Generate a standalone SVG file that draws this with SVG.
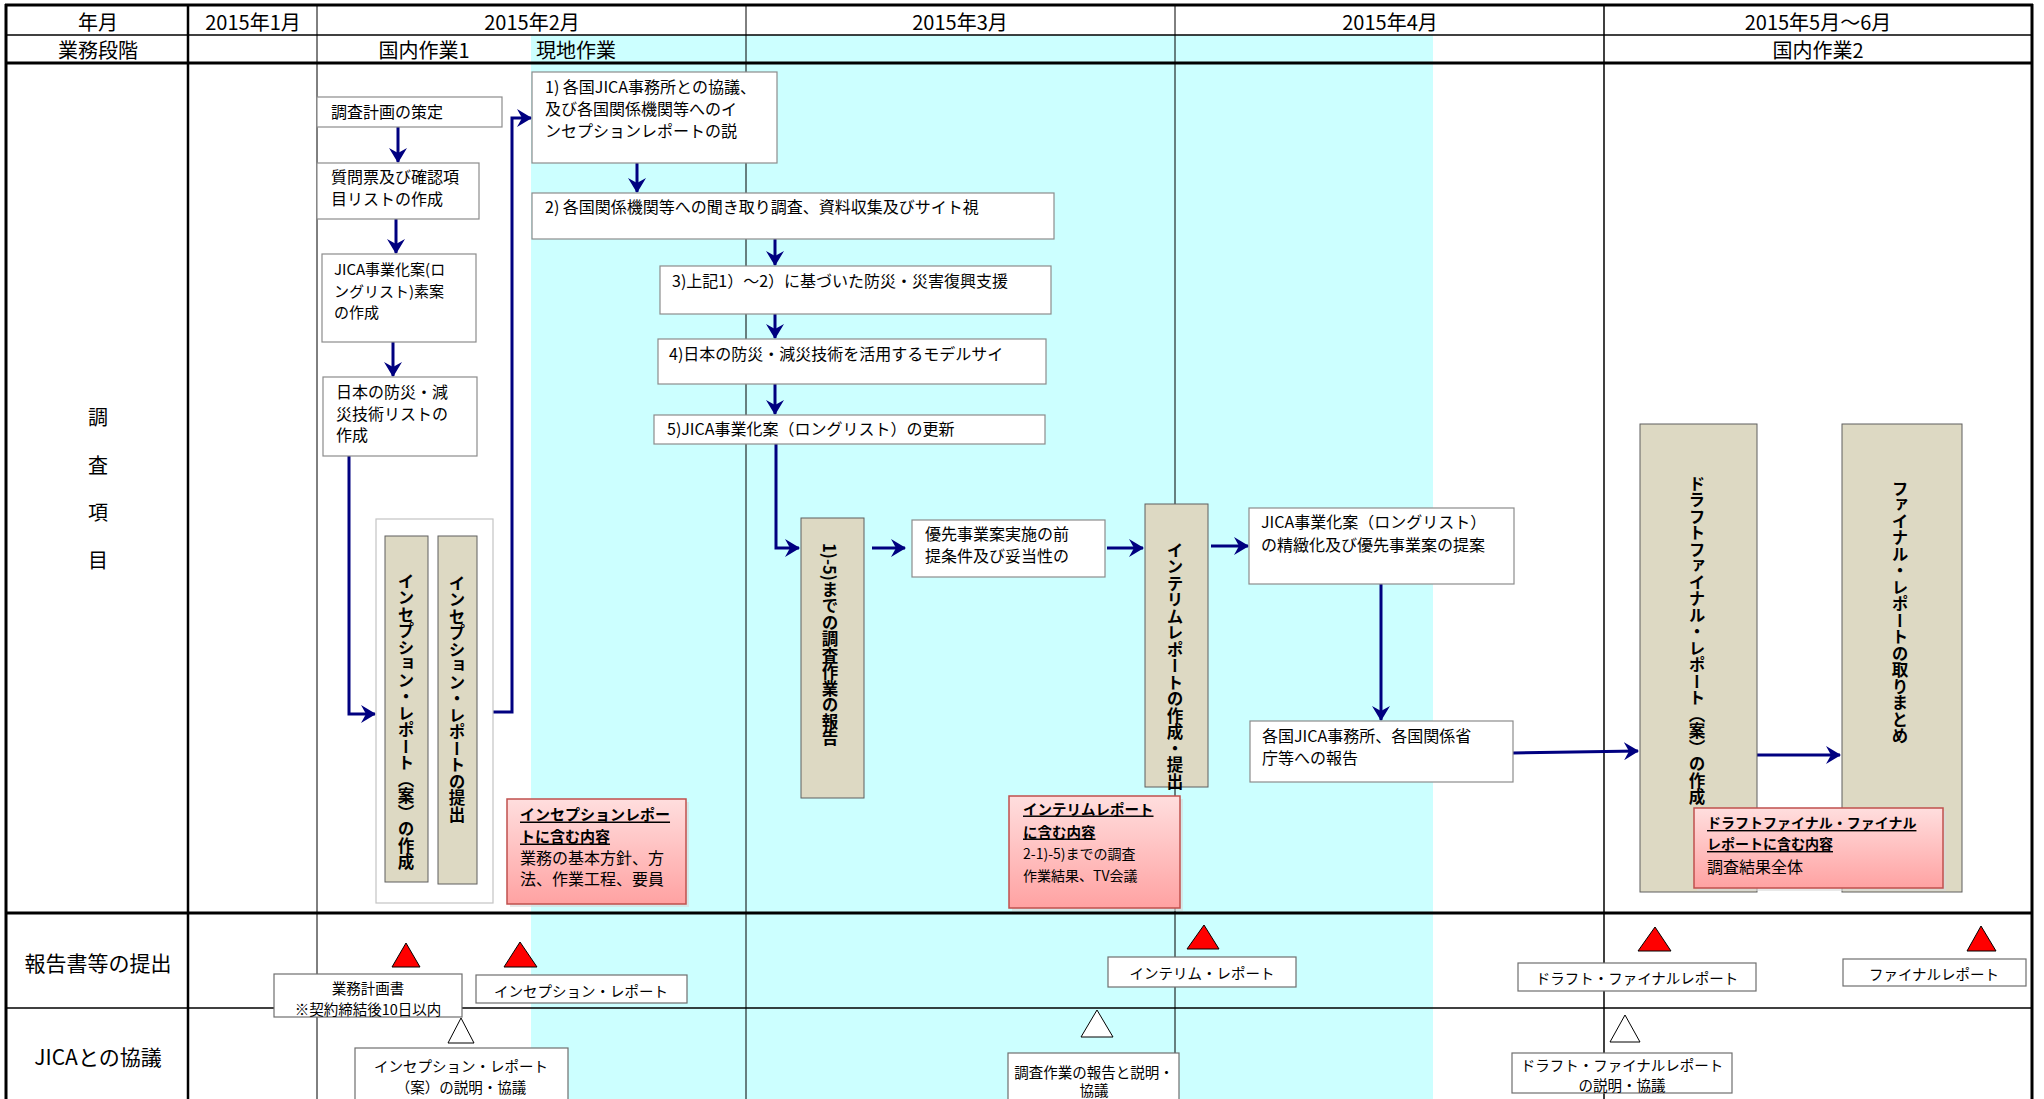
<svg xmlns="http://www.w3.org/2000/svg" width="2044" height="1099" viewBox="0 0 2044 1099">
<style>
text { font-family: "Noto Sans CJK JP", "Noto Sans", sans-serif; fill: #000; dominant-baseline: central; }
.hdr { font-size: 20px; text-anchor: middle; }
.lbl { font-size: 21px; text-anchor: middle; }
.box { fill: #fff; stroke: #8c8c8c; stroke-width: 1.2; }
.bbox { fill: #fff; stroke: #6f6f6f; stroke-width: 1.2; }
.t { font-size: 16px; }
.ts { font-size: 14.5px; text-anchor: middle; }
.bar { fill: #DDD9C3; stroke: #5f5f5f; stroke-width: 1; }
.vt { writing-mode: vertical-rl; font-weight: bold; font-size: 16.5px; }
.note { fill: url(#pink); stroke: #C0504D; stroke-width: 1.5; }
.nh { font-weight: bold; text-decoration: underline; }
.grid { stroke: #000; fill: none; }
.arr { stroke: #000080; stroke-width: 3; fill: none; marker-end: url(#ah); }
.red { fill: #FF0000; stroke: #000; stroke-width: 1; }
.wht { fill: #FFFFFF; stroke: #000; stroke-width: 1; }
</style>
<defs>
<marker id="ah" markerUnits="userSpaceOnUse" markerWidth="16" markerHeight="18" refX="14" refY="9" orient="auto">
<path d="M0,0 L15,9 L0,18 L5,9 z" fill="#000080"/>
</marker>
<linearGradient id="pink" x1="0" y1="0" x2="0" y2="1">
<stop offset="0" stop-color="#FFDEDE"/>
<stop offset="1" stop-color="#FFA2A2"/>
</linearGradient>
</defs>

<rect x="0" y="0" width="2044" height="1099" fill="#fff"/>
<rect x="531" y="35" width="902" height="1064" fill="#CCFFFF"/>

<g id="grid">
<line class="grid" x1="5" y1="5" x2="2033" y2="5" stroke-width="3"/>
<line class="grid" x1="5" y1="35" x2="2033" y2="35" stroke-width="1.5"/>
<line class="grid" x1="5" y1="63" x2="2033" y2="63" stroke-width="3"/>
<line class="grid" x1="5" y1="913" x2="2033" y2="913" stroke-width="3"/>
<line class="grid" x1="5" y1="1008" x2="2033" y2="1008" stroke-width="1.5"/>
<line class="grid" x1="6" y1="4" x2="6" y2="1099" stroke-width="3"/>
<line class="grid" x1="188" y1="4" x2="188" y2="1099" stroke-width="2.5"/>
<line class="grid" x1="317" y1="4" x2="317" y2="1099" stroke-width="1"/>
<line class="grid" x1="746" y1="4" x2="746" y2="1099" stroke-width="1"/>
<line class="grid" x1="1175" y1="4" x2="1175" y2="1099" stroke-width="1"/>
<line class="grid" x1="1604" y1="4" x2="1604" y2="1099" stroke-width="1.5"/>
<line class="grid" x1="2032" y1="4" x2="2032" y2="1099" stroke-width="3"/>
</g>

<g id="headers">
<text class="hdr" x="98" y="21">年月</text>
<text class="hdr" x="253" y="21">2015年1月</text>
<text class="hdr" x="532" y="21">2015年2月</text>
<text class="hdr" x="960" y="21">2015年3月</text>
<text class="hdr" x="1390" y="21">2015年4月</text>
<text class="hdr" x="1818" y="21">2015年5月～6月</text>
<text class="hdr" x="98" y="49">業務段階</text>
<text class="hdr" x="424" y="49">国内作業1</text>
<text class="hdr" x="536" y="49" style="text-anchor:start">現地作業</text>
<text class="hdr" x="1818" y="49">国内作業2</text>
<text class="hdr" x="98" y="416">調</text>
<text class="hdr" x="98" y="464">査</text>
<text class="hdr" x="98" y="511">項</text>
<text class="hdr" x="98" y="559">目</text>
<text class="lbl" x="98" y="962">報告書等の提出</text>
<text class="lbl" x="98" y="1056">JICAとの協議</text>
</g>

<g id="connectors">
<path class="arr" d="M398,127 V162"/>
<path class="arr" d="M396,219 V253"/>
<path class="arr" d="M393,342 V376"/>
<path class="arr" d="M349,456 V714 H375"/>
<path class="arr" d="M493,712 H512 V118 H531"/>
<path class="arr" d="M637,163 V192"/>
<path class="arr" d="M775,239 V265"/>
<path class="arr" d="M775,314 V338"/>
<path class="arr" d="M775,384 V414"/>
<path class="arr" d="M776,444 V548 H799"/>
<path class="arr" d="M872,548 H905"/>
<path class="arr" d="M1107,548 H1143"/>
<path class="arr" d="M1211,546 H1248"/>
<path class="arr" d="M1381,584 V720"/>
<path class="arr" d="M1513,753 L1638,751"/>
<path class="arr" d="M1757,755 H1840"/>
</g>

<g id="n-plan">
<rect class="box" x="317" y="97" width="185" height="30"/>
<text class="t" x="331" y="111">調査計画の策定</text>
</g>
<g id="n-question">
<rect class="box" x="317" y="163" width="162" height="56"/>
<text class="t" x="331" y="176">質問票及び確認項</text>
<text class="t" x="331" y="198">目リストの作成</text>
</g>
<g id="n-longlist-draft">
<rect class="box" x="322" y="254" width="154" height="88"/>
<text class="t" x="334" y="268" style="font-size:15px">JICA事業化案(ロ</text>
<text class="t" x="334" y="290" style="font-size:15px">ングリスト)素案</text>
<text class="t" x="334" y="311" style="font-size:15px">の作成</text>
</g>
<g id="n-techlist">
<rect class="box" x="323" y="377" width="154" height="79"/>
<text class="t" x="336" y="391">日本の防災・減</text>
<text class="t" x="336" y="413">災技術リストの</text>
<text class="t" x="336" y="434">作成</text>
</g>
<g id="n-inception">
<rect x="376" y="519" width="117" height="384" fill="#fff" stroke="#c4c4c4" stroke-width="1.2"/>
<rect class="bar" x="385" y="536" width="43" height="346"/>
<text class="vt" x="406" y="573">インセプション・レポート（案）の作成</text>
<rect class="bar" x="438" y="536" width="39" height="348"/>
<text class="vt" x="457" y="575">インセプション・レポートの提出</text>
</g>
<g id="n-inception-note">
<rect x="510" y="802" width="179" height="105" fill="#d9d9d9" opacity="0.6"/>
<rect class="note" x="507" y="799" width="179" height="105"/>
<text class="nh" x="520" y="813" style="font-size:15px">インセプションレポー</text>
<text class="nh" x="520" y="835" style="font-size:15px">トに含む内容</text>
<text x="520" y="857" style="font-size:16px">業務の基本方針、方</text>
<text x="520" y="878" style="font-size:16px">法、作業工程、要員</text>
</g>
<g id="n-step1">
<rect class="box" x="532" y="72" width="245" height="91"/>
<text class="t" x="545" y="86">1) 各国JICA事務所との協議、</text>
<text class="t" x="545" y="108">及び各国関係機関等へのイ</text>
<text class="t" x="545" y="130">ンセプションレポートの説</text>
</g>
<g id="n-step2">
<rect class="box" x="532" y="193" width="522" height="46"/>
<text class="t" x="545" y="206">2) 各国関係機関等への聞き取り調査、資料収集及びサイト視</text>
</g>
<g id="n-step3">
<rect class="box" x="660" y="266" width="391" height="48"/>
<text class="t" x="672" y="280">3)上記1）～2）に基づいた防災・災害復興支援</text>
</g>
<g id="n-step4">
<rect class="box" x="658" y="339" width="388" height="45"/>
<text class="t" x="669" y="353">4)日本の防災・減災技術を活用するモデルサイ</text>
</g>
<g id="n-step5">
<rect class="box" x="654" y="415" width="391" height="29"/>
<text class="t" x="667" y="428">5)JICA事業化案（ロングリスト）の更新</text>
</g>
<g id="n-report15">
<rect class="bar" x="801" y="518" width="63" height="280"/>
<text class="vt" x="830" y="543">1)-5)までの調査作業の報告</text>
</g>
<g id="n-priority">
<rect class="box" x="912" y="520" width="193" height="57"/>
<text class="t" x="925" y="533">優先事業案実施の前</text>
<text class="t" x="925" y="555">提条件及び妥当性の</text>
</g>
<g id="n-interim">
<rect class="bar" x="1145" y="504" width="63" height="283"/>
<text class="vt" x="1175" y="542">インテリムレポートの作成・提出</text>
</g>
<g id="n-interim-note">
<rect x="1012" y="799" width="171" height="112" fill="#d9d9d9" opacity="0.6"/>
<rect class="note" x="1009" y="796" width="171" height="112"/>
<text class="nh" x="1023" y="808" style="font-size:14.5px">インテリムレポート</text>
<text class="nh" x="1023" y="831" style="font-size:14.5px">に含む内容</text>
<text x="1023" y="853" style="font-size:14px">2-1)-5)までの調査</text>
<text x="1023" y="875" style="font-size:14px">作業結果、TV会議</text>
</g>
<g id="n-refine">
<rect class="box" x="1249" y="508" width="265" height="76"/>
<text class="t" x="1261" y="521">JICA事業化案（ロングリスト）</text>
<text class="t" x="1261" y="544">の精緻化及び優先事業案の提案</text>
</g>
<g id="n-report-agencies">
<rect class="box" x="1250" y="721" width="263" height="61"/>
<text class="t" x="1262" y="735">各国JICA事務所、各国関係省</text>
<text class="t" x="1262" y="757">庁等への報告</text>
</g>
<g id="n-draft">
<rect class="bar" x="1640" y="424" width="117" height="468"/>
<text class="vt" x="1697" y="475">ドラフトファイナル・レポート（案）の作成</text>
</g>
<g id="n-final">
<rect class="bar" x="1842" y="424" width="120" height="468"/>
<text class="vt" x="1900" y="480">ファイナル・レポートの取りまとめ</text>
</g>
<g id="n-draft-note">
<rect x="1697" y="811" width="249" height="80" fill="#d9d9d9" opacity="0.6"/>
<rect class="note" x="1694" y="808" width="249" height="80"/>
<text class="nh" x="1707" y="822" style="font-size:14px">ドラフトファイナル・ファイナル</text>
<text class="nh" x="1707" y="843" style="font-size:14px">レポートに含む内容</text>
<text x="1707" y="866" style="font-size:16px">調査結果全体</text>
</g>

<g id="n-milestones">
<polygon class="red" points="392,967 406,943 420,967"/>
<polygon class="red" points="504,967 520,942 537,967"/>
<polygon class="red" points="1187,949 1204,925 1219,949"/>
<polygon class="red" points="1638,951 1655,927 1671,951"/>
<polygon class="red" points="1967,951 1981,926 1996,951"/>
<polygon class="wht" points="448,1043 461,1018 474,1043"/>
<polygon class="wht" points="1081,1037 1097,1010 1113,1037"/>
<polygon class="wht" points="1610,1042 1625,1015 1640,1042"/>
</g>
<g id="n-workplan">
<rect class="bbox" x="274" y="974" width="188" height="43"/>
<text class="ts" x="368" y="987">業務計画書</text>
<text class="ts" x="368" y="1008">※契約締結後10日以内</text>
</g>
<g id="n-inception-sub">
<rect class="bbox" x="476" y="975" width="211" height="28"/>
<text class="ts" x="581" y="990">インセプション・レポート</text>
</g>
<g id="n-inception-disc">
<rect class="bbox" x="355" y="1048" width="213" height="62"/>
<text class="ts" x="461" y="1065">インセプション・レポート</text>
<text class="ts" x="461" y="1086">（案）の説明・協議</text>
</g>
<g id="n-interim-sub">
<rect class="bbox" x="1108" y="957" width="188" height="30"/>
<text class="ts" x="1202" y="972">インテリム・レポート</text>
</g>
<g id="n-survey-disc">
<rect class="bbox" x="1008" y="1053" width="171" height="57"/>
<text class="ts" x="1094" y="1071">調査作業の報告と説明・</text>
<text class="ts" x="1094" y="1089">協議</text>
</g>
<g id="n-draft-sub">
<rect class="bbox" x="1518" y="963" width="238" height="28"/>
<text class="ts" x="1637" y="977">ドラフト・ファイナルレポート</text>
</g>
<g id="n-final-sub">
<rect class="bbox" x="1843" y="959" width="183" height="27"/>
<text class="ts" x="1934" y="973">ファイナルレポート</text>
</g>
<g id="n-draft-disc">
<rect class="bbox" x="1512" y="1053" width="220" height="40"/>
<text class="ts" x="1622" y="1064">ドラフト・ファイナルレポート</text>
<text class="ts" x="1622" y="1084">の説明・協議</text>
</g>
</svg>
